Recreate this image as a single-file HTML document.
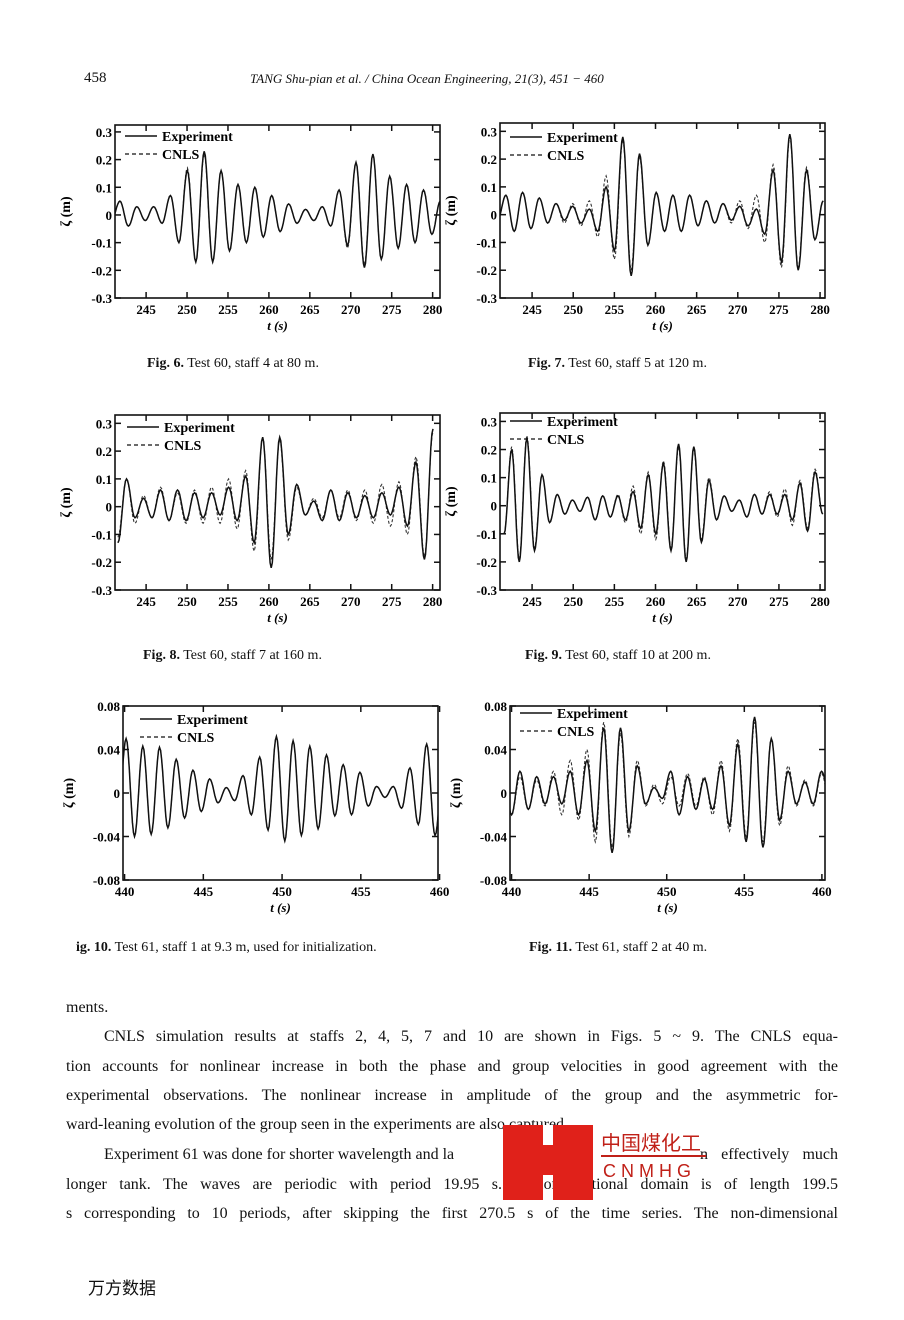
<!DOCTYPE html>
<html><head><meta charset="utf-8">
<style>
body{margin:0;background:#fff;width:904px;height:1320px;position:relative;overflow:hidden;font-family:"Liberation Serif","Noto Serif CJK SC",serif;color:#111}
.t{position:absolute;white-space:nowrap}
.ln{position:absolute;left:66px;width:772px;font-size:16px;white-space:nowrap;text-align:justify;text-align-last:justify;height:22px;overflow:hidden}
.ln.nj{text-align-last:left}
</style></head>
<body>
<div class="t" style="left:84px;top:70px;font-size:15px">458</div>
<div class="t" style="left:250px;top:71px;font-size:13px;font-style:italic">TANG Shu-pian et al. / China Ocean Engineering, 21(3), 451 − 460</div>

<svg id="fig" width="904" height="1000" style="position:absolute;left:0;top:0"></svg>

<div class="t" style="left:147px;top:356px;font-size:14px"><b>Fig. 6.</b> Test 60, staff 4 at 80 m.</div>
<div class="t" style="left:528px;top:356px;font-size:14px"><b>Fig. 7.</b> Test 60, staff 5 at 120 m.</div>
<div class="t" style="left:143px;top:648px;font-size:14px"><b>Fig. 8.</b> Test 60, staff 7 at 160 m.</div>
<div class="t" style="left:525px;top:648px;font-size:14px"><b>Fig. 9.</b> Test 60, staff 10 at 200 m.</div>
<div class="t" style="left:76px;top:940px;font-size:14px"><b>ig. 10.</b> Test 61, staff 1 at 9.3 m, used for initialization.</div>
<div class="t" style="left:529px;top:940px;font-size:14px"><b>Fig. 11.</b> Test 61, staff 2 at 40 m.</div>

<div>
<div class="ln nj" style="top:999px">ments.</div>
<div class="ln" style="top:1028px;left:104px;width:734px">CNLS simulation results at staffs 2, 4, 5, 7 and 10 are shown in Figs. 5 ~ 9. The CNLS equa-</div>
<div class="ln" style="top:1058px">tion accounts for nonlinear increase in both the phase and group velocities in good agreement with the</div>
<div class="ln" style="top:1087px">experimental observations. The nonlinear increase in amplitude of the group and the asymmetric for-</div>
<div class="ln nj" style="top:1116px">ward-leaning evolution of the group seen in the experiments are also captured.</div>
<div class="ln nj" style="top:1146px;left:104px;width:400px">Experiment 61 was done for shorter wavelength and la</div>
<div class="ln" style="top:1146px;left:700px;width:138px">n effectively much</div>
<div class="ln" style="top:1176px">longer tank. The waves are periodic with period 19.95 s. A computational domain is of length 199.5</div>
<div class="ln" style="top:1205px">s corresponding to 10 periods, after skipping the first 270.5 s of the time series. The non-dimensional</div>
</div>

<div style="position:absolute;left:503px;top:1125px;width:210px;height:80px">
 <div style="position:absolute;left:0;top:0;width:40px;height:75px;background:#e0211a"></div>
 <div style="position:absolute;left:50px;top:0;width:40px;height:75px;background:#e0211a"></div>
 <div style="position:absolute;left:25px;top:20px;width:40px;height:30px;background:#e0211a"></div>
 <div style="position:absolute;left:40px;top:0;width:10px;height:18px;background:#fff"></div>
 <div class="t" style="left:98px;top:2px;font-size:20px;color:#c02018;font-family:'Liberation Sans','Noto Sans CJK SC',sans-serif">中国煤化工</div>
 <div style="position:absolute;left:98px;top:30px;width:105px;height:2px;background:#c02018"></div>
 <div class="t" style="left:100px;top:36px;font-size:18px;letter-spacing:5px;color:#c02018;font-family:'Liberation Sans',sans-serif">CNMHG</div>
</div>
<div class="t" style="left:88px;top:1274px;font-size:17px;font-family:'Liberation Sans','Noto Sans CJK SC',sans-serif">万方数据</div>

<script>
// ---- data: alternating extrema (trough/peak) of each wave record ----
const f6Exp  = [-0.02,0.05,-0.04,0.03,-0.02,0.03,-0.03,0.07,-0.10,0.16,-0.17,0.23,-0.17,0.16,-0.13,0.11,-0.10,0.10,-0.08,0.07,-0.06,0.04,-0.03,0.02,-0.02,0.03,-0.04,0.09,-0.11,0.19,-0.19,0.22,-0.16,0.14,-0.12,0.11,-0.10,0.09,-0.07,0.05];
const f6Cnls = [-0.02,0.05,-0.04,0.03,-0.02,0.03,-0.03,0.07,-0.10,0.17,-0.17,0.22,-0.17,0.16,-0.13,0.11,-0.10,0.10,-0.08,0.07,-0.06,0.04,-0.03,0.02,-0.02,0.03,-0.04,0.09,-0.12,0.19,-0.18,0.22,-0.16,0.14,-0.12,0.11,-0.10,0.09,-0.07,0.05];
const f7Exp  = [-0.02,0.07,-0.06,0.08,-0.05,0.06,-0.03,0.04,-0.02,0.03,-0.03,0.02,-0.06,0.10,-0.13,0.28,-0.22,0.22,-0.11,0.08,-0.06,0.07,-0.06,0.07,-0.04,0.05,-0.03,0.04,-0.02,0.03,-0.04,0.02,-0.07,0.16,-0.17,0.29,-0.20,0.16,-0.09,0.05];
const f7Cnls = [-0.02,0.07,-0.06,0.08,-0.05,0.06,-0.03,0.04,-0.03,0.04,-0.04,0.05,-0.08,0.14,-0.16,0.27,-0.20,0.21,-0.11,0.08,-0.06,0.07,-0.06,0.07,-0.04,0.05,-0.03,0.04,-0.03,0.05,-0.05,0.07,-0.10,0.18,-0.19,0.28,-0.19,0.17,-0.09,0.05];
const f8Exp  = [-0.13,0.10,-0.04,0.03,-0.04,0.06,-0.05,0.06,-0.05,0.05,-0.04,0.05,-0.03,0.07,-0.05,0.11,-0.13,0.25,-0.22,0.25,-0.10,0.08,-0.03,0.02,-0.05,0.06,-0.05,0.05,-0.04,0.04,-0.04,0.05,-0.03,0.07,-0.07,0.16,-0.19,0.28];
const f8Cnls = [-0.11,0.10,-0.06,0.04,-0.04,0.07,-0.05,0.05,-0.06,0.06,-0.06,0.07,-0.06,0.10,-0.08,0.13,-0.16,0.25,-0.19,0.24,-0.12,0.07,-0.03,0.03,-0.04,0.06,-0.04,0.06,-0.05,0.06,-0.06,0.08,-0.07,0.09,-0.10,0.18,-0.18,0.27];
const f9Exp  = [-0.10,0.20,-0.20,0.24,-0.16,0.11,-0.06,0.04,-0.03,0.02,-0.02,0.03,-0.05,0.035,-0.04,0.035,-0.05,0.05,-0.08,0.11,-0.10,0.15,-0.16,0.22,-0.20,0.21,-0.13,0.09,-0.05,0.035,-0.02,0.02,-0.04,0.04,-0.03,0.04,-0.03,0.04,-0.05,0.08,-0.09,0.12,-0.03];
const f9Cnls = [-0.10,0.21,-0.19,0.25,-0.15,0.11,-0.06,0.04,-0.03,0.02,-0.02,0.03,-0.05,0.035,-0.04,0.04,-0.06,0.07,-0.10,0.12,-0.12,0.16,-0.15,0.21,-0.19,0.20,-0.12,0.10,-0.05,0.035,-0.02,0.02,-0.04,0.04,-0.03,0.05,-0.04,0.06,-0.07,0.09,-0.08,0.13,-0.03];
const f10Exp  = [-0.02,0.05,-0.04,0.043,-0.038,0.042,-0.032,0.031,-0.023,0.021,-0.017,0.013,-0.009,0.005,-0.007,0.016,-0.02,0.033,-0.034,0.052,-0.044,0.048,-0.039,0.043,-0.033,0.035,-0.021,0.026,-0.02,0.019,-0.012,0.006,-0.004,0.006,-0.014,0.023,-0.029,0.045,-0.039,0.02];
const f10Cnls = [-0.02,0.05,-0.04,0.043,-0.038,0.042,-0.032,0.031,-0.023,0.021,-0.017,0.013,-0.009,0.005,-0.007,0.016,-0.02,0.033,-0.034,0.052,-0.044,0.048,-0.039,0.043,-0.033,0.035,-0.021,0.026,-0.02,0.019,-0.012,0.006,-0.004,0.006,-0.014,0.023,-0.029,0.045,-0.039,0.02];
const f11Exp  = [0.02,-0.02,0.02,-0.015,0.015,-0.01,0.015,-0.01,0.02,-0.02,0.03,-0.035,0.06,-0.055,0.06,-0.035,0.025,-0.01,0.005,-0.005,0.02,-0.02,0.015,-0.015,0.013,-0.015,0.025,-0.03,0.045,-0.045,0.07,-0.05,0.05,-0.025,0.02,-0.01,0.01,-0.01,0.02,-0.005,0.02];
const f11Cnls = [0.02,-0.02,0.015,-0.015,0.012,-0.012,0.02,-0.02,0.03,-0.025,0.04,-0.045,0.065,-0.05,0.055,-0.04,0.03,-0.012,0.008,-0.01,0.015,-0.012,0.018,-0.012,0.015,-0.02,0.03,-0.035,0.05,-0.04,0.065,-0.045,0.05,-0.03,0.025,-0.012,0.012,-0.012,0.018,-0.01,0.02];
const tick60 = [245,250,255,260,265,270,275,280];
const tick61 = [440,445,450,455,460];
const yTick60 = [-0.3,-0.2,-0.1,0,0.1,0.2,0.3];
const yTick61 = [-0.08,-0.04,0,0.04,0.08];
const yLab60 = ["-0.3","-0.2","-0.1","0","0.1","0.2","0.3"];
const yLab61 = ["-0.08","-0.04","0","0.04","0.08"];

const NS="http://www.w3.org/2000/svg";
const svg=document.getElementById('fig');
function mk(tag,attrs,parent){const e=document.createElementNS(NS,tag);for(const k in attrs)e.setAttribute(k,attrs[k]);(parent||svg).appendChild(e);return e;}

const panels=[
 {id:'fig6',x:115,y:125,w:325,h:173,t:[241.2,280.9],yd:[-0.3,0.325],xt:tick60,yt:yTick60,yl:yLab60,exp:f6Exp,cn:f6Cnls,t0:240.77,dt:1.03,lx:125,ly:140},
 {id:'fig7',x:500,y:123,w:325,h:175,t:[241.1,280.6],yd:[-0.3,0.33],xt:tick60,yt:yTick60,yl:yLab60,exp:f7Exp,cn:f7Cnls,t0:240.8,dt:1.015,lx:510,ly:141},
 {id:'fig8',x:115,y:415,w:325,h:175,t:[241.2,280.9],yd:[-0.3,0.33],xt:tick60,yt:yTick60,yl:yLab60,exp:f8Exp,cn:f8Cnls,t0:241.56,dt:1.04,lx:127,ly:431},
 {id:'fig9',x:500,y:413,w:325,h:177,t:[241.1,280.6],yd:[-0.3,0.33],xt:tick60,yt:yTick60,yl:yLab60,exp:f9Exp,cn:f9Cnls,t0:241.6,dt:0.922,lx:510,ly:425},
 {id:'fig10',x:123,y:706,w:315,h:174,t:[439.9,459.9],yd:[-0.08,0.08],xt:tick61,yt:yTick61,yl:yLab61,exp:f10Exp,cn:f10Cnls,t0:439.57,dt:0.53,lx:140,ly:723},
 {id:'fig11',x:510,y:706,w:315,h:174,t:[439.9,460.2],yd:[-0.08,0.08],xt:tick61,yt:yTick61,yl:yLab61,exp:f11Exp,cn:f11Cnls,t0:439.46,dt:0.54,lx:520,ly:717}
];

function wavePath(vals,t0,dt,X,Y){
  let d='';
  for(let i=0;i<vals.length-1;i++){
    for(let k=0;k<=8;k++){
      if(i>0&&k===0)continue;
      const s=k/8,v=vals[i]+(vals[i+1]-vals[i])*(1-Math.cos(Math.PI*s))/2;
      d+=(d?'L':'M')+X(t0+(i+s)*dt).toFixed(1)+','+Y(v).toFixed(1);
    }
  }
  return d;
}

panels.forEach((p,pi)=>{
  const g=mk('g',{});
  
  
  const X=t=>p.x+(t-p.t[0])/(p.t[1]-p.t[0])*p.w;
  const Y=v=>p.y+p.h-(v-p.yd[0])/(p.yd[1]-p.yd[0])*p.h;
  const cp=mk('clipPath',{id:'c'+pi},g);
  mk('rect',{x:p.x,y:p.y,width:p.w,height:p.h},cp);
  const ce=mk('path',{d:wavePath(p.cn,p.t0,p.dt,X,Y),fill:'none',stroke:'#333','stroke-width':1.1,'stroke-dasharray':'3,2','clip-path':'url(#c'+pi+')'},g);
  
  
  const ex=mk('path',{d:wavePath(p.exp,p.t0,p.dt,X,Y),fill:'none',stroke:'#111','stroke-width':1.5,'clip-path':'url(#c'+pi+')'},g);
  
  
  const fr=mk('rect',{x:p.x,y:p.y,width:p.w,height:p.h,fill:'none',stroke:'#111','stroke-width':1.6},g);
  
  
  p.xt.forEach(t=>{
    const x=X(t);
    mk('line',{x1:x,x2:x,y1:p.y+p.h,y2:p.y+p.h-6,stroke:'#111','stroke-width':1.5},g);
    mk('line',{x1:x,x2:x,y1:p.y,y2:p.y+6,stroke:'#111','stroke-width':1.5},g);
    const tx=mk('text',{x:x,y:p.y+p.h+16,'text-anchor':'middle','font-size':13,'font-weight':'bold','font-family':'Liberation Serif, serif'},g);
    tx.textContent=t;
    
    
  });
  p.yt.forEach((v,i)=>{
    const y=Y(v);
    mk('line',{x1:p.x,x2:p.x+6,y1:y,y2:y,stroke:'#111','stroke-width':1.5},g);
    mk('line',{x1:p.x+p.w,x2:p.x+p.w-6,y1:y,y2:y,stroke:'#111','stroke-width':1.5},g);
    const ty=mk('text',{x:p.x-3,y:y+5,'text-anchor':'end','font-size':13,'font-weight':'bold','font-family':'Liberation Serif, serif'},g);
    ty.textContent=p.yl[i];
    
    
  });
  const xl=mk('text',{x:p.x+p.w/2,y:p.y+p.h+32,'text-anchor':'middle','font-size':13,'font-weight':'bold','font-style':'italic','font-family':'Liberation Serif, serif'},g);
  xl.textContent='t (s)';
  
  
  const yx=p.x-(p.yd[1]<0.2?50:45), yy=p.y+p.h/2;
  const yl=mk('text',{x:yx,y:yy,'text-anchor':'middle','font-size':14,'font-weight':'bold','font-family':'Liberation Serif, serif',transform:'rotate(-90 '+yx+' '+yy+')'},g);
  yl.textContent='ζ (m)';
  
  
  const lg=mk('g',{},g);
  
  
  mk('line',{x1:p.lx,x2:p.lx+32,y1:p.ly-4,y2:p.ly-4,stroke:'#111','stroke-width':1.4},lg);
  mk('line',{x1:p.lx,x2:p.lx+32,y1:p.ly+14,y2:p.ly+14,stroke:'#111','stroke-width':1.3,'stroke-dasharray':'4,3'},lg);
  const l1=mk('text',{x:p.lx+37,y:p.ly+1,'font-size':14,'font-weight':'bold','font-family':'Liberation Serif, serif'},lg);
  l1.textContent='Experiment';
  const l2=mk('text',{x:p.lx+37,y:p.ly+19,'font-size':14,'font-weight':'bold','font-family':'Liberation Serif, serif'},lg);
  l2.textContent='CNLS';
});
</script>
</body></html>
